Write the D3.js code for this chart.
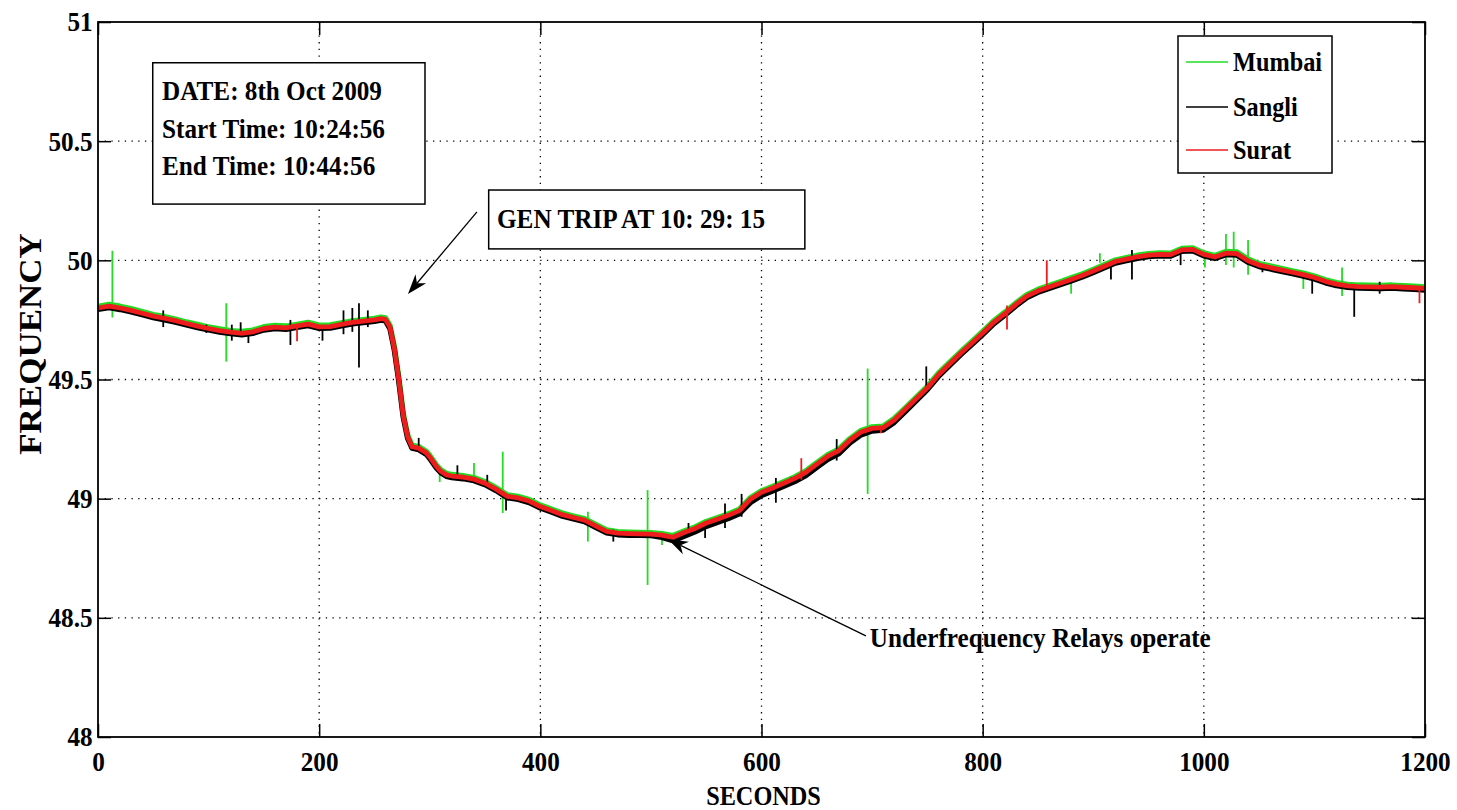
<!DOCTYPE html>
<html>
<head>
<meta charset="utf-8">
<script src="https://cdn.jsdelivr.net/npm/d3@7"></script>
<style>
  html, body { margin: 0; padding: 0; background: #fff; }
  svg { display: block; }
  text { font-family: "Liberation Serif", "Times New Roman", serif; font-weight: bold; fill: #000; }
</style>
</head>
<body>
<svg id="chart" width="1457" height="810"></svg>
<script>
// Sample times (s) shared by the three PMU records
const seconds = [
  0, 10, 20, 30, 40, 50, 60, 70, 80, 90,
  100, 110, 120, 130, 140, 150, 160, 170, 180, 190,
  200, 210, 220, 230, 240, 250, 256, 260, 264, 268,
  272, 276, 280, 284, 290, 297, 300, 306, 310, 315,
  320, 330, 340, 350, 360, 370, 380, 390, 400, 410,
  420, 430, 440, 450, 460, 470, 480, 490, 500, 510,
  520, 530, 540, 550, 560, 570, 580, 590, 600, 610,
  620, 630, 640, 650, 660, 670, 680, 690, 700, 710,
  720, 730, 740, 750, 760, 770, 780, 790, 800, 810,
  820, 830, 840, 850, 860, 870, 880, 890, 900, 910,
  920, 930, 940, 950, 960, 970, 980, 990, 1000, 1010,
  1020, 1030, 1040, 1050, 1060, 1070, 1080, 1090, 1100, 1110,
  1120, 1130, 1140, 1150, 1160, 1170, 1180, 1190, 1200
];

// Frequency (Hz) at each sample time
const mumbai = [
  49.806, 49.815, 49.807, 49.797, 49.785, 49.772, 49.764, 49.753, 49.741, 49.731,
  49.720, 49.712, 49.705, 49.701, 49.707, 49.721, 49.727, 49.724, 49.731, 49.739,
  49.728, 49.729, 49.737, 49.746, 49.751, 49.756, 49.761, 49.758, 49.727, 49.637,
  49.507, 49.357, 49.267, 49.224, 49.218, 49.198, 49.181, 49.141, 49.121, 49.106,
  49.101, 49.096, 49.088, 49.071, 49.046, 49.016, 49.009, 48.996, 48.973, 48.956,
  48.939, 48.927, 48.916, 48.892, 48.869, 48.861, 48.859, 48.858, 48.857, 48.853,
  48.845, 48.864, 48.881, 48.904, 48.920, 48.936, 48.956, 49.004, 49.033, 49.051,
  49.071, 49.091, 49.116, 49.151, 49.184, 49.208, 49.252, 49.286, 49.301, 49.304,
  49.336, 49.381, 49.426, 49.471, 49.526, 49.571, 49.616, 49.658, 49.701, 49.746,
  49.782, 49.821, 49.856, 49.878, 49.894, 49.910, 49.926, 49.942, 49.961, 49.981,
  50.001, 50.011, 50.021, 50.028, 50.031, 50.030, 50.050, 50.052, 50.031, 50.020,
  50.037, 50.035, 50.005, 49.986, 49.976, 49.966, 49.956, 49.946, 49.934, 49.918,
  49.906, 49.899, 49.896, 49.895, 49.894, 49.896, 49.893, 49.891, 49.888
];

const sangli = [
  49.795, 49.802, 49.794, 49.784, 49.772, 49.760, 49.751, 49.741, 49.729, 49.718,
  49.708, 49.699, 49.693, 49.688, 49.694, 49.708, 49.714, 49.711, 49.719, 49.726,
  49.715, 49.716, 49.725, 49.734, 49.739, 49.744, 49.749, 49.746, 49.714, 49.624,
  49.494, 49.344, 49.254, 49.212, 49.206, 49.186, 49.169, 49.129, 49.109, 49.094,
  49.089, 49.084, 49.076, 49.059, 49.034, 49.004, 48.997, 48.984, 48.961, 48.944,
  48.927, 48.915, 48.904, 48.880, 48.857, 48.849, 48.847, 48.846, 48.845, 48.838,
  48.824, 48.843, 48.861, 48.884, 48.900, 48.917, 48.937, 48.984, 49.014, 49.032,
  49.052, 49.072, 49.097, 49.132, 49.165, 49.189, 49.234, 49.268, 49.284, 49.288,
  49.320, 49.366, 49.412, 49.458, 49.513, 49.559, 49.604, 49.646, 49.689, 49.734,
  49.770, 49.809, 49.844, 49.866, 49.882, 49.898, 49.914, 49.930, 49.949, 49.969,
  49.989, 49.999, 50.009, 50.016, 50.019, 50.018, 50.038, 50.040, 50.019, 50.008,
  50.024, 50.022, 49.992, 49.974, 49.964, 49.954, 49.944, 49.934, 49.922, 49.906,
  49.894, 49.887, 49.884, 49.883, 49.882, 49.884, 49.881, 49.879, 49.876
];

const surat = [
  49.800, 49.808, 49.800, 49.790, 49.778, 49.766, 49.757, 49.747, 49.735, 49.724,
  49.714, 49.705, 49.699, 49.694, 49.700, 49.714, 49.720, 49.717, 49.725, 49.732,
  49.721, 49.722, 49.731, 49.740, 49.745, 49.750, 49.755, 49.752, 49.720, 49.630,
  49.500, 49.350, 49.260, 49.218, 49.212, 49.192, 49.175, 49.135, 49.115, 49.100,
  49.095, 49.090, 49.082, 49.065, 49.040, 49.010, 49.003, 48.990, 48.967, 48.950,
  48.933, 48.921, 48.910, 48.886, 48.863, 48.855, 48.853, 48.852, 48.851, 48.847,
  48.838, 48.858, 48.875, 48.898, 48.914, 48.930, 48.950, 48.998, 49.027, 49.045,
  49.065, 49.085, 49.110, 49.145, 49.178, 49.202, 49.246, 49.280, 49.295, 49.298,
  49.330, 49.375, 49.420, 49.465, 49.520, 49.565, 49.610, 49.652, 49.695, 49.740,
  49.776, 49.815, 49.850, 49.872, 49.888, 49.904, 49.920, 49.936, 49.955, 49.975,
  49.995, 50.005, 50.015, 50.022, 50.025, 50.024, 50.044, 50.046, 50.025, 50.014,
  50.030, 50.028, 49.998, 49.980, 49.970, 49.960, 49.950, 49.940, 49.928, 49.912,
  49.900, 49.893, 49.890, 49.889, 49.888, 49.890, 49.887, 49.885, 49.882
];

// Momentary glitches in each record: [time (s), low (Hz), high (Hz)]
const mumbaiSpikes = [
  [13, 49.76, 50.04], [116, 49.575, 49.82], [309, 49.07, 49.12], [340, 49.08, 49.15],
  [366, 48.94, 49.197], [443, 48.82, 48.945], [497, 48.638, 49.036], [510, 48.806, 48.86],
  [696, 49.02, 49.546], [880, 49.86, 49.93], [906, 49.99, 50.03], [941, 50.0, 50.03],
  [1001, 49.97, 50.03], [1020, 49.98, 50.11], [1027, 49.97, 50.12], [1040, 49.94, 50.085],
  [1090, 49.88, 49.95], [1125, 49.85, 49.97]
];
const sangliSpikes = [
  [59, 49.72, 49.79], [98, 49.695, 49.73], [121, 49.663, 49.73], [129, 49.68, 49.74],
  [136, 49.653, 49.70], [174, 49.645, 49.75], [203, 49.663, 49.72], [222, 49.69, 49.79],
  [230, 49.70, 49.80], [236, 49.55, 49.82], [244, 49.72, 49.79], [290, 49.20, 49.255],
  [325, 49.09, 49.14], [352, 49.06, 49.10], [369, 48.95, 49.01], [466, 48.82, 48.87],
  [534, 48.84, 48.898], [549, 48.835, 48.90], [567, 48.877, 48.98], [582, 48.924, 49.02],
  [613, 48.983, 49.087], [627, 49.057, 49.09], [668, 49.16, 49.25], [749, 49.45, 49.555],
  [916, 49.92, 49.99], [935, 49.92, 50.043], [979, 49.98, 50.04], [1053, 49.95, 49.98],
  [1098, 49.86, 49.93], [1136, 49.763, 49.89], [1159, 49.86, 49.91]
];
const suratSpikes = [
  [180, 49.66, 49.73], [636, 49.08, 49.17], [708, 49.275, 49.30], [822, 49.71, 49.81],
  [858, 49.884, 50.0], [1195, 49.82, 49.885]
];

const xTicks = [0, 200, 400, 600, 800, 1000, 1200];
const xTickLabels = ["0", "200", "400", "600", "800", "1000", "1200"];
const yTicks = [48, 48.5, 49, 49.5, 50, 50.5, 51];
const yTickLabels = ["48", "48.5", "49", "49.5", "50", "50.5", "51"];
const seriesNames = ["Mumbai", "Sangli", "Surat"];
const seriesColors = ["#22dd22", "#000000", "#ee1c1c"];

const infoLines = ["DATE: 8th Oct 2009", "Start Time: 10:24:56", "End Time: 10:44:56"];
const tripLabel = "GEN TRIP AT 10: 29: 15";
const relayLabel = "Underfrequency Relays operate";

// ---------------------------------------------------------------------------
const W = 1457, H = 810;
const plot = { left: 98, top: 22, right: 1425, bottom: 737 };
const FONT = 28, SQUEEZE = 0.9;

const svg = d3.select("#chart");
svg.append("rect").attr("width", W).attr("height", H).attr("fill", "#fff");

const x = d3.scaleLinear().domain([0, 1200]).range([plot.left, plot.right]);
const y = d3.scaleLinear().domain([48, 51]).range([plot.bottom, plot.top]);

// Narrow serif lettering helper
function label(parent, px, py, str, opts = {}) {
  const size = opts.size || FONT;
  const rot = opts.rotate ? ` rotate(${opts.rotate})` : "";
  const g = parent.append("g").attr("transform", `translate(${px},${py}) scale(${SQUEEZE},1)${rot}`);
  return g.append("text")
    .attr("text-anchor", opts.anchor || "start")
    .attr("font-size", size)
    .text(str);
}

// Dotted grid
const grid = svg.append("g").attr("stroke", "#000").attr("stroke-width", 1.3)
  .attr("stroke-dasharray", "1.3,5.4");
grid.selectAll("line.gx").data(xTicks.slice(1, -1)).join("line")
  .attr("x1", d => x(d)).attr("x2", d => x(d))
  .attr("y1", plot.top).attr("y2", plot.bottom);
grid.selectAll("line.gy").data(yTicks.slice(1, -1)).join("line")
  .attr("y1", d => y(d)).attr("y2", d => y(d))
  .attr("x1", plot.left).attr("x2", plot.right);

// Frequency traces, then their glitches, in legend order
const line = d3.line().x(d => x(d[0])).y(d => y(d[1])).curve(d3.curveLinear);
const records = [mumbai, sangli, surat];
const spikes = [mumbaiSpikes, sangliSpikes, suratSpikes];
const widths = [5.5, 5.5, 4.8];
records.forEach((vals, i) => {
  const pts = seconds.map((t, k) => [t, vals[k]]);
  svg.append("path").datum(pts)
    .attr("d", line)
    .attr("fill", "none")
    .attr("stroke", seriesColors[i])
    .attr("stroke-width", widths[i])
    .attr("stroke-linejoin", "round");
  svg.append("g").selectAll("line").data(spikes[i]).join("line")
    .attr("x1", d => x(d[0])).attr("x2", d => x(d[0]))
    .attr("y1", d => y(d[1])).attr("y2", d => y(d[2]))
    .attr("stroke", seriesColors[i]).attr("stroke-width", 1.8);
});

// Axes: ticks point inward on all four sides
const tickLen = 13;
const axB = svg.append("g").attr("transform", `translate(0,${plot.bottom})`)
  .call(d3.axisBottom(x).tickValues(xTicks).tickFormat((d, i) => xTickLabels[i])
    .tickSizeInner(-tickLen).tickSizeOuter(0).tickPadding(14));
const axL = svg.append("g").attr("transform", `translate(${plot.left},0)`)
  .call(d3.axisLeft(y).tickValues(yTicks).tickFormat((d, i) => yTickLabels[i])
    .tickSizeInner(-tickLen).tickSizeOuter(0).tickPadding(6));
const axT = svg.append("g").attr("transform", `translate(0,${plot.top})`)
  .call(d3.axisTop(x).tickValues(xTicks).tickFormat("").tickSizeInner(-tickLen).tickSizeOuter(0));
const axR = svg.append("g").attr("transform", `translate(${plot.right},0)`)
  .call(d3.axisRight(y).tickValues(yTicks).tickFormat("").tickSizeInner(-tickLen).tickSizeOuter(0));
[axB, axL, axT, axR].forEach(a => {
  a.select(".domain").remove();
  a.selectAll(".tick line").attr("stroke", "#000").attr("stroke-width", 1.5);
  a.selectAll(".tick text")
    .attr("font-family", '"Liberation Serif", "Times New Roman", serif')
    .attr("font-weight", "bold")
    .attr("font-size", FONT)
    .attr("fill", "#000")
    .attr("transform", `scale(${SQUEEZE},1)`);
});

// Frame
svg.append("rect")
  .attr("x", plot.left).attr("y", plot.top)
  .attr("width", plot.right - plot.left).attr("height", plot.bottom - plot.top)
  .attr("fill", "none").attr("stroke", "#000").attr("stroke-width", 1.8);

// Axis titles
label(svg, (plot.left + plot.right) / 2 + 2, 805, "SECONDS", { anchor: "middle", size: 27 });
label(svg, 41, 344, "FREQUENCY", { anchor: "middle", size: 35, rotate: -90 });

// Date / time box
svg.append("rect")
  .attr("x", x(49.5)).attr("y", y(50.829))
  .attr("width", x(295.7) - x(49.5)).attr("height", y(50.236) - y(50.829))
  .attr("fill", "#fff").attr("stroke", "#000").attr("stroke-width", 1.5);
[50.673, 50.513, 50.358].forEach((v, i) => label(svg, x(57.9), y(v), infoLines[i]));

// Generator trip callout
svg.append("rect")
  .attr("x", x(353.3)).attr("y", y(50.295))
  .attr("width", x(639.2) - x(353.3)).attr("height", y(50.048) - y(50.295))
  .attr("fill", "#fff").attr("stroke", "#000").attr("stroke-width", 1.5);
label(svg, x(360.8), y(50.136), tripLabel);

function arrow(t0, v0, t1, v1) {
  const ax = x(t0), ay = y(v0), bx = x(t1), by = y(v1);
  const len = Math.hypot(bx - ax, by - ay);
  const ux = (bx - ax) / len, uy = (by - ay) / len;
  const nx = -uy, ny = ux;
  const L = 20, w = 7, notch = 6;
  svg.append("line")
    .attr("x1", ax).attr("y1", ay)
    .attr("x2", bx - ux * (L - notch)).attr("y2", by - uy * (L - notch))
    .attr("stroke", "#000").attr("stroke-width", 1.3);
  const p = [
    [bx, by],
    [bx - ux * L + nx * w, by - uy * L + ny * w],
    [bx - ux * (L - notch), by - uy * (L - notch)],
    [bx - ux * L - nx * w, by - uy * L - ny * w]
  ];
  svg.append("path").attr("d", "M" + p.map(q => q.join(",")).join("L") + "Z").attr("fill", "#000");
}
arrow(342.7, 50.203, 280.3, 49.859);
arrow(694.4, 48.424, 515.4, 48.83);
label(svg, x(698), y(48.378), relayLabel);

// Legend
const leg = { x0: 1178, x1: 1332, y0: 36, y1: 173 };
svg.append("rect")
  .attr("x", leg.x0).attr("y", leg.y0)
  .attr("width", leg.x1 - leg.x0).attr("height", leg.y1 - leg.y0)
  .attr("fill", "#fff").attr("stroke", "#000").attr("stroke-width", 1.5);
const legRows = [62, 107, 150];
seriesNames.forEach((name, i) => {
  svg.append("line")
    .attr("x1", 1186).attr("x2", 1228)
    .attr("y1", legRows[i]).attr("y2", legRows[i])
    .attr("stroke", seriesColors[i]).attr("stroke-width", 1.5);
  label(svg, 1233, legRows[i] + 9, name, { size: 27 });
});
</script>
</body>
</html>
